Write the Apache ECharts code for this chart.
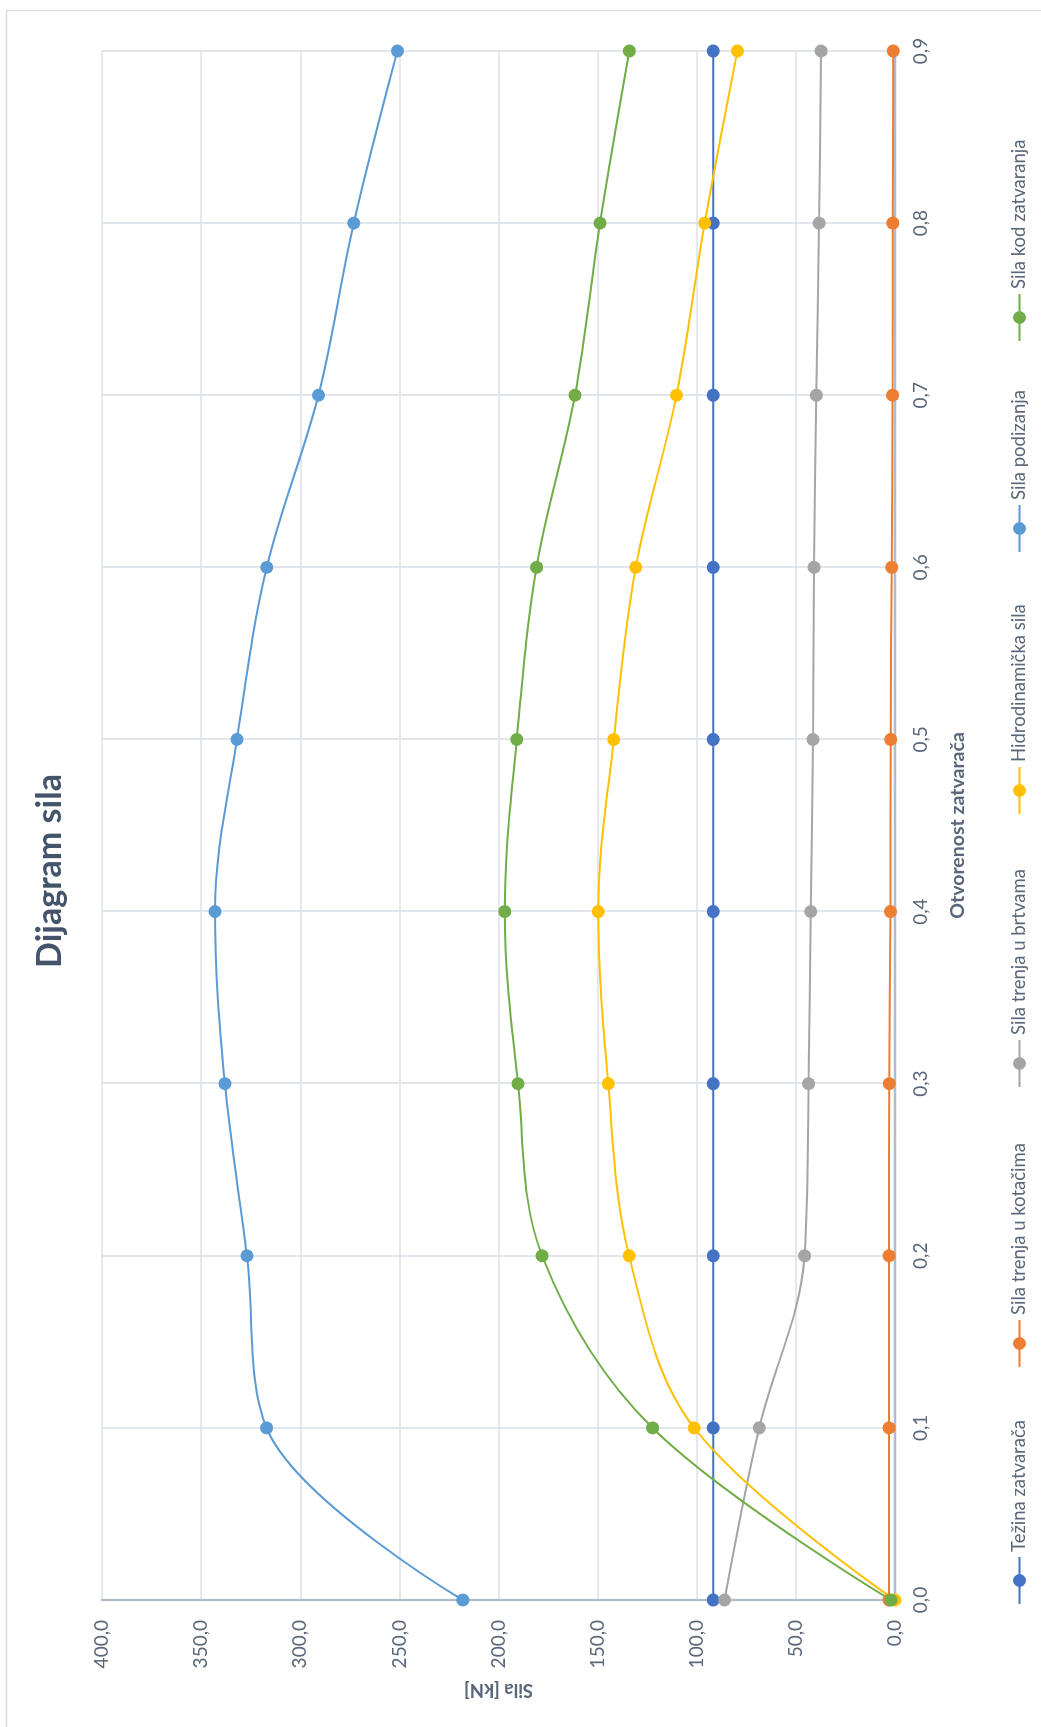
<!DOCTYPE html>
<html><head><meta charset="utf-8">
<script src="https://cdn.jsdelivr.net/npm/echarts@6/dist/echarts.min.js"></script>
<style>
html,body{margin:0;padding:0;overflow:hidden;background:#fff;width:1041px;height:1727px;}
#wrap{position:absolute;left:0;top:0;width:1727px;height:1041px;transform-origin:0 0;transform:translateY(1727px) rotate(-90deg);}
#chart{width:1727px;height:1041px;}
</style></head>
<body><div id="wrap"><div id="chart"></div></div>
<script>
var openness = ['0,0','0,1','0,2','0,3','0,4','0,5','0,6','0,7','0,8','0,9'];
var tezina     = [91.7, 91.7, 91.7, 91.7, 91.7, 91.7, 91.7, 91.7, 91.7, 91.7];
var kotacima   = [3.0, 3.0, 3.0, 2.9, 2.3, 2.2, 1.7, 1.2, 1.1, 0.9];
var brtvama    = [86.0, 68.5, 45.6, 43.6, 42.5, 41.4, 40.8, 39.7, 38.3, 37.3];
var hidro      = [0.0, 101.3, 134.1, 144.7, 149.7, 141.9, 130.8, 110.2, 96.0, 79.5];
var podizanja  = [218.0, 317.0, 326.9, 338.0, 343.0, 331.9, 316.9, 290.8, 273.0, 251.0];
var zatvaranja = [2.0, 122.3, 178.0, 190.2, 196.9, 190.8, 180.8, 161.4, 148.8, 134.0];
var seriesNames = ['Težina zatvarača','Sila trenja u kotačima','Sila trenja u brtvama','Hidrodinamička sila','Sila podizanja','Sila kod zatvaranja'];
var seriesData = [tezina, kotacima, brtvama, hidro, podizanja, zatvaranja];
var colors = ['#4472C4','#ED7D31','#A5A5A5','#FFC000','#5B9BD5','#70AD47'];
var legendLeft = [122, 359, 639, 912, 1174, 1385];

var FONT = 'Lato, "Open Sans", sans-serif';
var txtColor = '#5a6679';

var chart = echarts.init(document.getElementById('chart'), null, {renderer:'canvas'});
var series = seriesNames.map(function(n, i){
  return {
    name: n, type: 'line', data: seriesData[i], smooth: 0.35,
    symbol: 'circle', symbolSize: 13, showSymbol: true,
    itemStyle: {color: colors[i]}, lineStyle: {color: colors[i], width: 2},
    emphasis: {disabled: true}
  };
});
var legends = seriesNames.map(function(n, i){
  return {
    data: [n], left: legendLeft[i], top: 1010, padding: 0, orient: 'horizontal',
    itemWidth: 47, itemHeight: 16, selectedMode: false,
    textStyle: {fontSize: 18.5, color: txtColor, fontFamily: FONT}
  };
});
chart.setOption({
  animation: false,
  backgroundColor: '#ffffff',
  color: colors,
  graphic: [
    {type:'rect', shape:{x:-10, y:6.5, width:1726.5, height:1100}, style:{fill:'none', stroke:'#d9dde3', lineWidth:1.3}, silent:true},
    {type:'text', x:856, y:50, style:{text:'Dijagram sila', font:'bold 34px ' + FONT, fill:'#44546A', textAlign:'center', textVerticalAlign:'middle'}}
  ],
  grid: {left: 127, right: 51, top: 102, bottom: 146, containLabel: false},
  legend: legends,
  xAxis: {
    type: 'category', data: openness, boundaryGap: false,
    axisLine: {show: true, lineStyle: {color: '#b1bbca', width: 2.3}},
    axisTick: {show: false},
    axisLabel: {margin: 16, fontSize: 19, color: txtColor, fontFamily: FONT},
    splitLine: {show: true, lineStyle: {color: '#dde2ea', width: 1.7}},
    name: 'Otvorenost zatvarača', nameLocation: 'middle', nameGap: 53,
    nameTextStyle: {fontSize: 19.5, fontWeight: 'bold', color: txtColor, fontFamily: FONT}
  },
  yAxis: {
    type: 'value', min: 0, max: 400, interval: 50,
    axisLine: {show: true, lineStyle: {color: '#b1bbca', width: 2.3}},
    axisTick: {show: false},
    axisLabel: {margin: 20, fontSize: 19, color: txtColor, fontFamily: FONT,
      formatter: function(v){ return v.toFixed(1).replace('.', ','); }},
    splitLine: {show: true, lineStyle: {color: '#dde2ea', width: 1.7}},
    name: 'Sila [kN]', nameLocation: 'middle', nameGap: 80,
    nameTextStyle: {fontSize: 18.5, fontWeight: 'bold', color: txtColor, fontFamily: FONT}
  },
  series: series
});
</script>
</body></html>
